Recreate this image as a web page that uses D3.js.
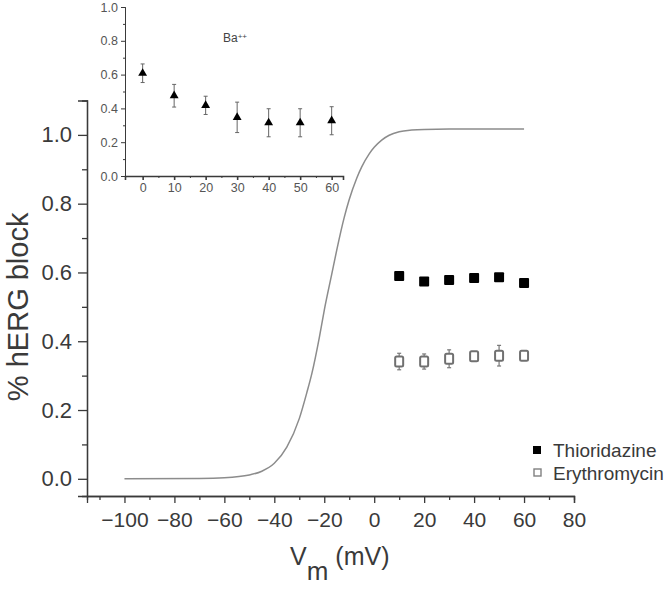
<!DOCTYPE html>
<html>
<head>
<meta charset="utf-8">
<script src="https://cdn.jsdelivr.net/npm/d3@7"></script>
<style>
html,body{margin:0;padding:0;background:#fff;}
svg{display:block;font-family:"Liberation Sans",Arial,sans-serif;}
</style>
</head>
<body>
<svg id="chart" width="670" height="590"></svg>
<script>
// ---- data ----
const xTicks = [-100, -80, -60, -40, -20, 0, 20, 40, 60, 80];
const yTicks = [0.0, 0.2, 0.4, 0.6, 0.8, 1.0];
const voltages = [10, 20, 30, 40, 50, 60];
const thioridazine = [0.590, 0.574, 0.578, 0.584, 0.586, 0.569];
const thioridazineErr = [0.008, 0.008, 0.008, 0.008, 0.008, 0.008];
const erythromycin = [0.341, 0.341, 0.349, 0.356, 0.358, 0.358];
const erythromycinErr = [0.024, 0.022, 0.026, 0.012, 0.030, 0.010];
const fitV = [-100, -70, -60, -50, -45, -40, -35, -30, -27, -25, -22, -20, -17, -15, -12, -10, -7, -5, -2, 0, 3, 6, 10, 15, 20, 30, 60];
const fitBlock = [0.0, 0.001, 0.003, 0.011, 0.022, 0.045, 0.092, 0.175, 0.25, 0.305, 0.41, 0.49, 0.595, 0.665, 0.76, 0.812, 0.874, 0.907, 0.945, 0.964, 0.985, 0.999, 1.009, 1.014, 1.016, 1.017, 1.017];
const insetXTicks = [0, 10, 20, 30, 40, 50, 60];
const insetYTicks = [0.0, 0.2, 0.4, 0.6, 0.8, 1.0];
const baVoltages = [0, 10, 20, 30, 40, 50, 60];
const baBlock = [0.608, 0.475, 0.418, 0.347, 0.315, 0.315, 0.327];
const baErr = [0.055, 0.067, 0.054, 0.090, 0.083, 0.083, 0.083];
const legendLabels = ["Thioridazine", "Erythromycin"];

const svg = d3.select("#chart");
const axisColor = "#3a3a3a";
const textColor = "#3a3a3a";
const minus = s => String(s).replace("-", "\u2212");

// ---- main scales ----
const x = d3.scaleLinear().domain([-115, 80]).range([87, 574]);
const y = d3.scaleLinear().domain([-0.05, 1.1]).range([496, 100.5]);

function styleAxis(g) {
  g.select(".domain").attr("stroke", axisColor).attr("stroke-width", 1.3);
  g.selectAll(".tick line").attr("stroke", axisColor).attr("stroke-width", 1.3);
  g.selectAll(".tick text").attr("fill", textColor).attr("font-family", "Liberation Sans, Arial, sans-serif");
}

// main x axis (minor + major)
const xMinor = d3.range(-110, 80, 20);
svg.append("g").attr("transform", `translate(0,${y(-0.05)})`)
  .call(d3.axisBottom(x).tickValues(xMinor).tickSize(4).tickFormat(""))
  .call(styleAxis);
svg.append("g").attr("transform", `translate(0,${y(-0.05)})`)
  .call(d3.axisBottom(x).tickValues(xTicks).tickSize(7).tickPadding(9).tickFormat(d => minus(d)))
  .call(styleAxis)
  .call(g => g.selectAll(".tick text").attr("font-size", 21));

// main y axis
const yMinor = d3.range(0.1, 1.0, 0.2);
svg.append("g").attr("transform", `translate(${x(-115)},0)`)
  .call(d3.axisLeft(y).tickValues(yMinor).tickSize(5).tickFormat(""))
  .call(styleAxis);
svg.append("g").attr("transform", `translate(${x(-115)},0)`)
  .call(d3.axisLeft(y).tickValues(yTicks).tickSize(9).tickPadding(6).tickFormat(d3.format(".1f")))
  .call(styleAxis)
  .call(g => g.selectAll(".tick text").attr("font-size", 22));

// axis titles
svg.append("text")
  .attr("transform", `translate(28,${y(0.5)}) rotate(-90)`)
  .attr("text-anchor", "middle")
  .attr("font-size", 29)
  .attr("fill", textColor)
  .text("% hERG block");

const xt = svg.append("text")
  .attr("x", 290).attr("y", 565)
  .attr("font-size", 25)
  .attr("fill", textColor);
xt.append("tspan").text("V");
xt.append("tspan").attr("dy", 15).attr("font-size", 26).text("m");
xt.append("tspan").attr("dy", -15).attr("dx", 7).text("(mV)");

// fitted curve
const line = d3.line().x(d => x(d[0])).y(d => y(d[1])).curve(d3.curveMonotoneX);
svg.append("path")
  .datum(fitV.map((v, i) => [v, fitBlock[i]]))
  .attr("d", line)
  .attr("fill", "none")
  .attr("stroke", "#8c8c8c")
  .attr("stroke-width", 1.5);

// error bars helper
function errBars(g, xs, ys, es, sx, sy, color, cap, w) {
  xs.forEach((v, i) => {
    const cx = sx(v), y1 = sy(ys[i] + es[i]), y2 = sy(ys[i] - es[i]);
    g.append("line").attr("x1", cx).attr("x2", cx).attr("y1", y1).attr("y2", y2).attr("stroke", color).attr("stroke-width", w);
    g.append("line").attr("x1", cx - cap).attr("x2", cx + cap).attr("y1", y1).attr("y2", y1).attr("stroke", color).attr("stroke-width", w);
    g.append("line").attr("x1", cx - cap).attr("x2", cx + cap).attr("y1", y2).attr("y2", y2).attr("stroke", color).attr("stroke-width", w);
  });
}

// erythromycin
const gE = svg.append("g");
errBars(gE, voltages, erythromycin, erythromycinErr, x, y, "#777", 2, 1.2);
gE.selectAll("rect").data(voltages).enter().append("rect")
  .attr("x", d => x(d) - 4).attr("y", (d, i) => y(erythromycin[i]) - 5)
  .attr("width", 8).attr("height", 10).attr("rx", 1.5)
  .attr("fill", "#fff").attr("stroke", "#707070").attr("stroke-width", 2);

// thioridazine
const gT = svg.append("g");
errBars(gT, voltages, thioridazine, thioridazineErr, x, y, "#000", 2, 1);
gT.selectAll("rect").data(voltages).enter().append("rect")
  .attr("x", d => x(d) - 5).attr("y", (d, i) => y(thioridazine[i]) - 5)
  .attr("width", 10).attr("height", 10).attr("rx", 1)
  .attr("fill", "#000");

// legend
const leg = svg.append("g");
legendLabels.forEach((lab, i) => {
  const ly = 450 + i * 23;
  if (i === 0) {
    leg.append("rect").attr("x", 533).attr("y", ly - 4).attr("width", 8).attr("height", 8).attr("fill", "#000");
  } else {
    leg.append("rect").attr("x", 534).attr("y", ly - 4).attr("width", 7).attr("height", 7).attr("fill", "#fff").attr("stroke", "#808080").attr("stroke-width", 1.4);
  }
  leg.append("text").attr("x", 553).attr("y", ly + 7).attr("font-size", 19).attr("fill", textColor).text(lab);
});

// ---- inset ----
const ix = d3.scaleLinear().domain([-5.6, 63.6]).range([125, 343]);
const iy = d3.scaleLinear().domain([0, 1]).range([176, 7]);

svg.append("g").attr("transform", `translate(0,${iy(0)})`)
  .call(d3.axisBottom(ix).tickValues(d3.range(5, 60, 10)).tickSize(2).tickFormat(""))
  .call(styleAxis)
  .call(g => g.selectAll("line,path").attr("stroke-width", 1));
svg.append("g").attr("transform", `translate(0,${iy(0)})`)
  .call(d3.axisBottom(ix).tickValues(insetXTicks).tickSize(4).tickPadding(3).tickFormat(d3.format("d")))
  .call(styleAxis)
  .call(g => g.selectAll("line,path").attr("stroke-width", 1.6))
  .call(g => g.selectAll(".tick text").attr("font-size", 12.5).attr("fill", "#555"));

svg.append("g").attr("transform", `translate(${ix(-5.6)},0)`)
  .call(d3.axisLeft(iy).tickValues(d3.range(0.1, 1.0, 0.2)).tickSize(2).tickFormat(""))
  .call(styleAxis)
  .call(g => g.selectAll("line,path").attr("stroke-width", 1));
svg.append("g").attr("transform", `translate(${ix(-5.6)},0)`)
  .call(d3.axisLeft(iy).tickValues(insetYTicks).tickSize(4).tickPadding(3).tickFormat(d3.format(".1f")))
  .call(styleAxis)
  .call(g => g.selectAll("line,path").attr("stroke-width", 1))
  .call(g => g.selectAll(".tick text").attr("font-size", 12.5).attr("fill", "#555"));

const gB = svg.append("g");
errBars(gB, baVoltages, baBlock, baErr, ix, iy, "#666", 2, 1);
gB.selectAll("path.tri").data(baVoltages).enter().append("path")
  .attr("class", "tri")
  .attr("d", d3.symbol().type(d3.symbolTriangle).size(34))
  .attr("transform", (d, i) => `translate(${ix(d)},${iy(baBlock[i])})`)
  .attr("fill", "#000");

const ba = svg.append("text").attr("x", 223).attr("y", 42).attr("font-size", 12).attr("fill", "#444");
ba.append("tspan").text("Ba");
ba.append("tspan").attr("dy", -3).attr("font-size", 8).text("++");
</script>
</body>
</html>
